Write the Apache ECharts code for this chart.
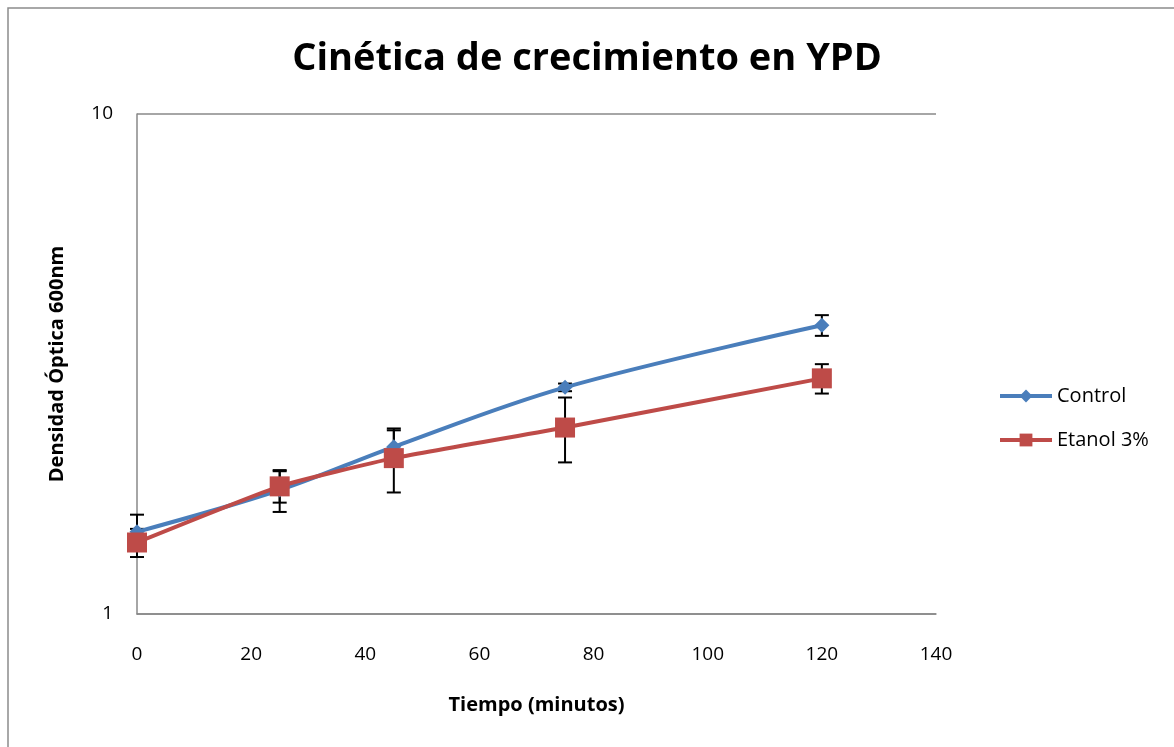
<!DOCTYPE html>
<html><head><meta charset="utf-8">
<script src="https://cdn.jsdelivr.net/npm/echarts@6/dist/echarts.min.js"></script>
<style>html,body{margin:0;padding:0;background:#fff}#c{width:1174px;height:747px}</style>
</head><body><div id="c"></div>
<script>
const times = [0, 25, 45, 75, 120];
const controlValues = [1.46, 1.77, 2.16, 2.84, 3.78];
const controlErr = [0.12, 0.17, 0.17, 0.05, 0.18];
const etanolValues = [1.39, 1.80, 2.05, 2.36, 2.96];
const etanolErr = [0.09, 0.13, 0.30, 0.35, 0.20];
const xTicks = [0, 20, 40, 60, 80, 100, 120, 140];
const yTicks = [1, 10];

const chart = echarts.init(document.getElementById('c'));
function errData(vals, errs){ return times.map((t,i)=>[t, vals[i]-errs[i], vals[i]+errs[i]]); }
function errRender(params, api){
  const x = api.value(0);
  const lo = api.coord([x, api.value(1)]);
  const hi = api.coord([x, api.value(2)]);
  const w = 7;
  const st = {stroke:'#000', lineWidth:2};
  return {type:'group', children:[
    {type:'line', shape:{x1:lo[0],y1:lo[1],x2:hi[0],y2:hi[1]}, style:st},
    {type:'line', shape:{x1:lo[0]-w,y1:lo[1],x2:lo[0]+w,y2:lo[1]}, style:st},
    {type:'line', shape:{x1:hi[0]-w,y1:hi[1],x2:hi[0]+w,y2:hi[1]}, style:st}
  ]};
}
const font = 'Open Sans, DejaVu Sans, sans-serif';
chart.setOption({
  animation:false,
  textStyle:{fontFamily:font},
  graphic:[{type:'rect', shape:{x:8,y:8,width:1200,height:800}, style:{fill:'none', stroke:'#8c8c8c', lineWidth:1.5}}],
  title:{text:'Cinética de crecimiento en YPD', left:'center', top:35, textStyle:{fontSize:38, fontWeight:'bold', color:'#000', fontFamily:font}},
  legend:{orient:'vertical', left:993, top:381, itemGap:24, itemWidth:52, itemHeight:16,
    lineStyle:{width:4},
    textStyle:{fontSize:20, color:'#000', fontFamily:font}, data:['Control','Etanol 3%']},
  grid:{left:137, right:238, top:114, bottom:133},
  xAxis:{type:'value', min:0, max:140, interval:20,
    name:'Tiempo (minutos)', nameLocation:'middle', nameGap:81,
    nameTextStyle:{fontSize:20, fontWeight:'bold', color:'#000'},
    axisLine:{lineStyle:{color:'#888', width:1.5}}, axisTick:{show:false},
    axisLabel:{fontSize:19, color:'#000', margin:31, formatter:v=>xTicks.includes(v)?String(v):''},
    splitLine:{show:false}},
  yAxis:{type:'log', logBase:10, min:1, max:10,
    name:'Densidad Óptica 600nm', nameLocation:'middle', nameGap:70,
    nameTextStyle:{fontSize:20, fontWeight:'bold', color:'#000'},
    axisLine:{show:true, lineStyle:{color:'#888', width:1.5}}, axisTick:{show:false},
    axisLabel:{fontSize:19, color:'#000', margin:24, fontFamily:font,
      formatter:v=>{const r=Math.round(v); return yTicks.includes(r)?String(r):'';}},
    splitLine:{show:true, lineStyle:{color:'#888', width:1.5}}},
  series:[
    {type:'custom', name:'errC', renderItem:errRender, data:errData(controlValues, controlErr), encode:{x:0,y:[1,2]}, z:3, silent:true},
    {type:'custom', name:'errE', renderItem:errRender, data:errData(etanolValues, etanolErr), encode:{x:0,y:[1,2]}, z:3, silent:true},
    {type:'line', name:'Control', data:times.map((t,i)=>[t,controlValues[i]]), smooth:0.35,
      symbol:'diamond', symbolSize:15, itemStyle:{color:'#4A7EBB'}, lineStyle:{width:4, color:'#4A7EBB'}, z:4},
    {type:'line', name:'Etanol 3%', data:times.map((t,i)=>[t,etanolValues[i]]), smooth:0.15,
      symbol:'rect', symbolSize:20, itemStyle:{color:'#BE4B48'}, lineStyle:{width:4, color:'#BE4B48'}, z:5}
  ]
});
</script></body></html>
